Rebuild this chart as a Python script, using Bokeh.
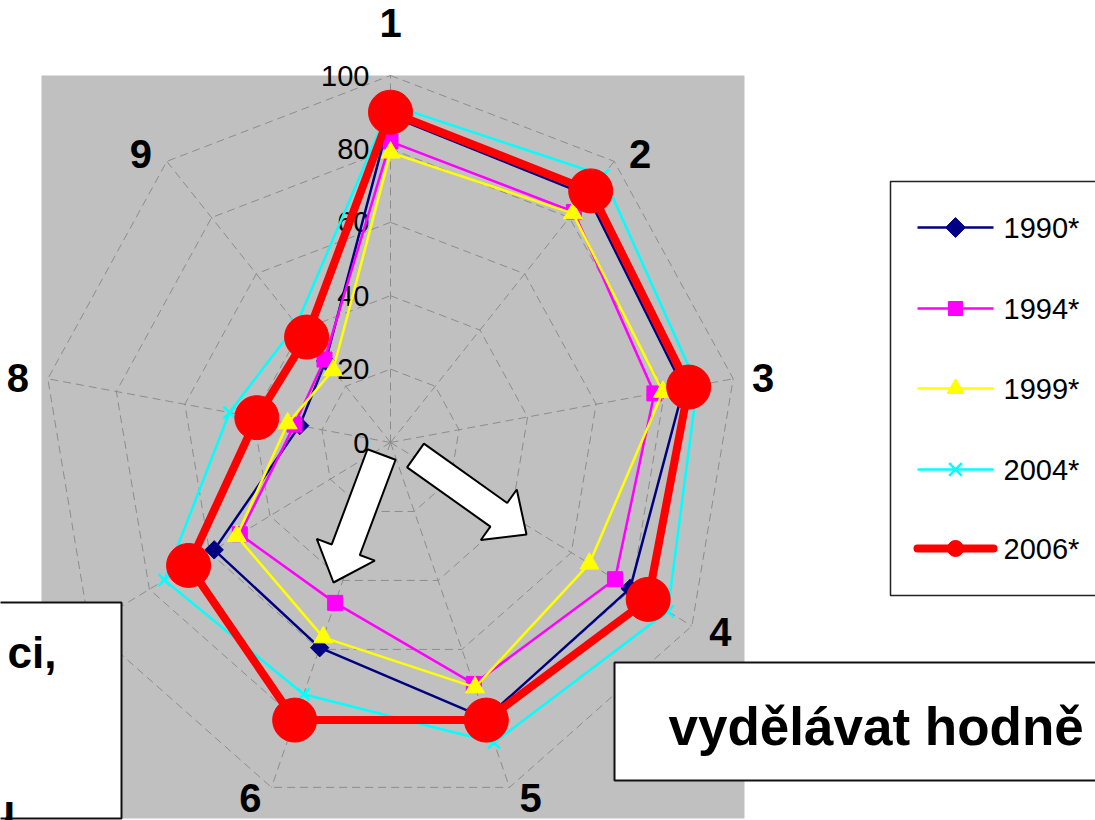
import numpy as np
from bokeh.plotting import figure
from bokeh.core.properties import value
from bokeh.embed import file_html
from bokeh.resources import INLINE

# ---------------- data ----------------
categories = ["1", "2", "3", "4", "5", "6", "7", "8", "9"]
series_names = ["1990*", "1994*", "1999*", "2004*", "2006*"]
v1990 = [89, 88, 85.5, 79.5, 80, 59.5, 58.5, 26.5, 29]
v1994 = [82, 82, 77, 74.5, 70, 46.5, 50, 28, 29.5]
v1999 = [79, 81.5, 79.5, 66, 71, 56.5, 51, 30, 25.7]
v2004 = [92, 95, 89.5, 92, 87, 73, 75, 47, 42]
v2006 = [90, 89.5, 87, 85.5, 80.5, 80.5, 67, 39, 37.5]
tick_values = [0, 20, 40, 60, 80, 100]
tick_labels = ["0", "20", "40", "60", "80", "100"]
box_right_text = "vydělávat hodně"
box_left_texts = ["ci,", "u"]

# ---------------- layout (reference pixel geometry) ----------------
W, H = 1095, 820
CX, CY = 390.0, 442.0
SX, SY = 3.48, 3.67
FONT = "Liberation Sans"


def dx(px):
    return (px - CX) / SX


def dy(py):
    return (CY - py) / SY


p = figure(width=W, height=H, output_backend="svg", toolbar_location=None,
           x_range=(dx(0), dx(W)), y_range=(dy(H), dy(0)),
           x_axis_type=None, y_axis_type=None, min_border=0,
           background_fill_color="white", border_fill_color="white")
p.outline_line_color = None
p.grid.visible = False

# plot area
p.quad(left=[dx(41)], right=[dx(744)], top=[dy(75)], bottom=[dy(818)],
       fill_color="#C0C0C0", line_color=None)

n = len(categories)
theta = np.arange(n) * 2 * np.pi / n
sin_t, cos_t = np.sin(theta), np.cos(theta)


def polar(vals):
    vals = np.asarray(vals, dtype=float)
    xs = list(vals * sin_t)
    ys = list(vals * cos_t)
    return xs + [xs[0]], ys + [ys[0]]


# grid rings and spokes
ring_xs, ring_ys = [], []
for t in tick_values[1:]:
    xs, ys = polar([t] * n)
    ring_xs.append(xs)
    ring_ys.append(ys)
for k in range(n):
    ring_xs.append([0, 100 * sin_t[k]])
    ring_ys.append([0, 100 * cos_t[k]])
p.multi_line(ring_xs, ring_ys, line_color="#8C8C8C", line_width=1, line_dash="8 5")

# tick labels
p.text(x=[dx(369)] * len(tick_values), y=tick_values, text=tick_labels,
       text_font=value(FONT), text_font_size=value("29px"),
       text_align="right", text_baseline="middle", text_color="black")

# category labels: outer end of each axis plus a pixel offset away from the chart
off_x = 30 * np.sign(sin_t) * np.abs(sin_t) ** (1 / 3)
off_y = 1 - 10.5 * cos_t - 43 * np.clip(cos_t, 0, None) ** 30
lab_x = 100 * sin_t + off_x / SX
lab_y = 100 * cos_t - off_y / SY
p.text(x=list(lab_x), y=list(lab_y), text=categories,
       text_font=value(FONT), text_font_size=value("40px"), text_font_style="bold",
       text_align="center", text_baseline="middle", text_color="black")

# series
styles = [
    dict(vals=v1990, color="#000080", lw=2.5, marker="square", size=13, angle=np.pi / 4),
    dict(vals=v1994, color="#FF00FF", lw=2.5, marker="square", size=15, angle=0),
    dict(vals=v1999, color="#FFFF00", lw=2.5, marker="triangle", size=19, angle=0),
    dict(vals=v2004, color="#00FFFF", lw=2.5, marker="x", size=17, angle=0),
    dict(vals=v2006, color="#FF0000", lw=8, marker="circle", size=44, angle=0),
]
for st in styles:
    xs, ys = polar(st["vals"])
    p.line(xs, ys, line_color=st["color"], line_width=st["lw"])
    p.scatter(xs[:-1], ys[:-1], marker=st["marker"], size=st["size"], angle=st["angle"],
              fill_color=st["color"], line_color=st["color"],
              line_width=2.5 if st["marker"] == "x" else 1)


# block arrows
def block_arrow(tail, tip, shaft_w, head_w, head_len):
    tail = np.array(tail, float)
    tip = np.array(tip, float)
    u = (tip - tail) / np.linalg.norm(tip - tail)
    nv = np.array([-u[1], u[0]])
    base = tip - u * head_len
    pts = [tail + nv * shaft_w / 2, base + nv * shaft_w / 2, base + nv * head_w / 2, tip,
           base - nv * head_w / 2, base - nv * shaft_w / 2, tail - nv * shaft_w / 2]
    return [dx(q[0]) for q in pts], [dy(q[1]) for q in pts]


arrows = [block_arrow((381, 454), (333, 582), 30, 62, 35),
          block_arrow((415, 455), (526, 534), 29, 62, 34)]
p.patches([a[0] for a in arrows], [a[1] for a in arrows],
          fill_color="white", line_color="black", line_width=2)

# text boxes
p.quad(left=[dx(-5), dx(614)], right=[dx(121), dx(1110)], top=[dy(602), dy(662)],
       bottom=[dy(818), dy(780)], fill_color="white", line_color="#111111", line_width=2)
p.text(x=[dx(668)], y=[dy(726)], text=[box_right_text], text_font=value(FONT),
       text_font_size=value("53px"), text_font_style="bold", text_align="left",
       text_baseline="alphabetic", text_color="black")
p.text(x=[dx(56), dx(15)], y=[dy(652), dy(810)], text=box_left_texts, text_font=value(FONT),
       text_font_size=value("44px"), text_font_style="bold", text_align="right",
       text_baseline="alphabetic", text_color="black")

# legend box
p.quad(left=[dx(890)], right=[dx(1110)], top=[dy(181)], bottom=[dy(595)],
       fill_color="white", line_color="#222222", line_width=1.5)
leg_y = [227, 308, 388, 469, 548]
leg_sizes = [14, 14, 17, 18, 16]
for st, name, ly, ms in zip(styles, series_names, leg_y, leg_sizes):
    p.line([dx(917), dx(993)], [dy(ly), dy(ly)], line_color=st["color"],
           line_width=st["lw"], line_cap="round" if st["lw"] > 4 else "butt")
    p.scatter([dx(955)], [dy(ly)], marker=st["marker"], size=ms, angle=st["angle"],
              fill_color=st["color"], line_color=st["color"],
              line_width=2.5 if st["marker"] == "x" else 1)
    p.text(x=[dx(1003)], y=[dy(ly)], text=[name], text_font=value(FONT),
           text_font_size=value("29px"), text_align="left", text_baseline="middle",
           text_color="black")

open("out.html", "w").write(file_html(p, INLINE))
